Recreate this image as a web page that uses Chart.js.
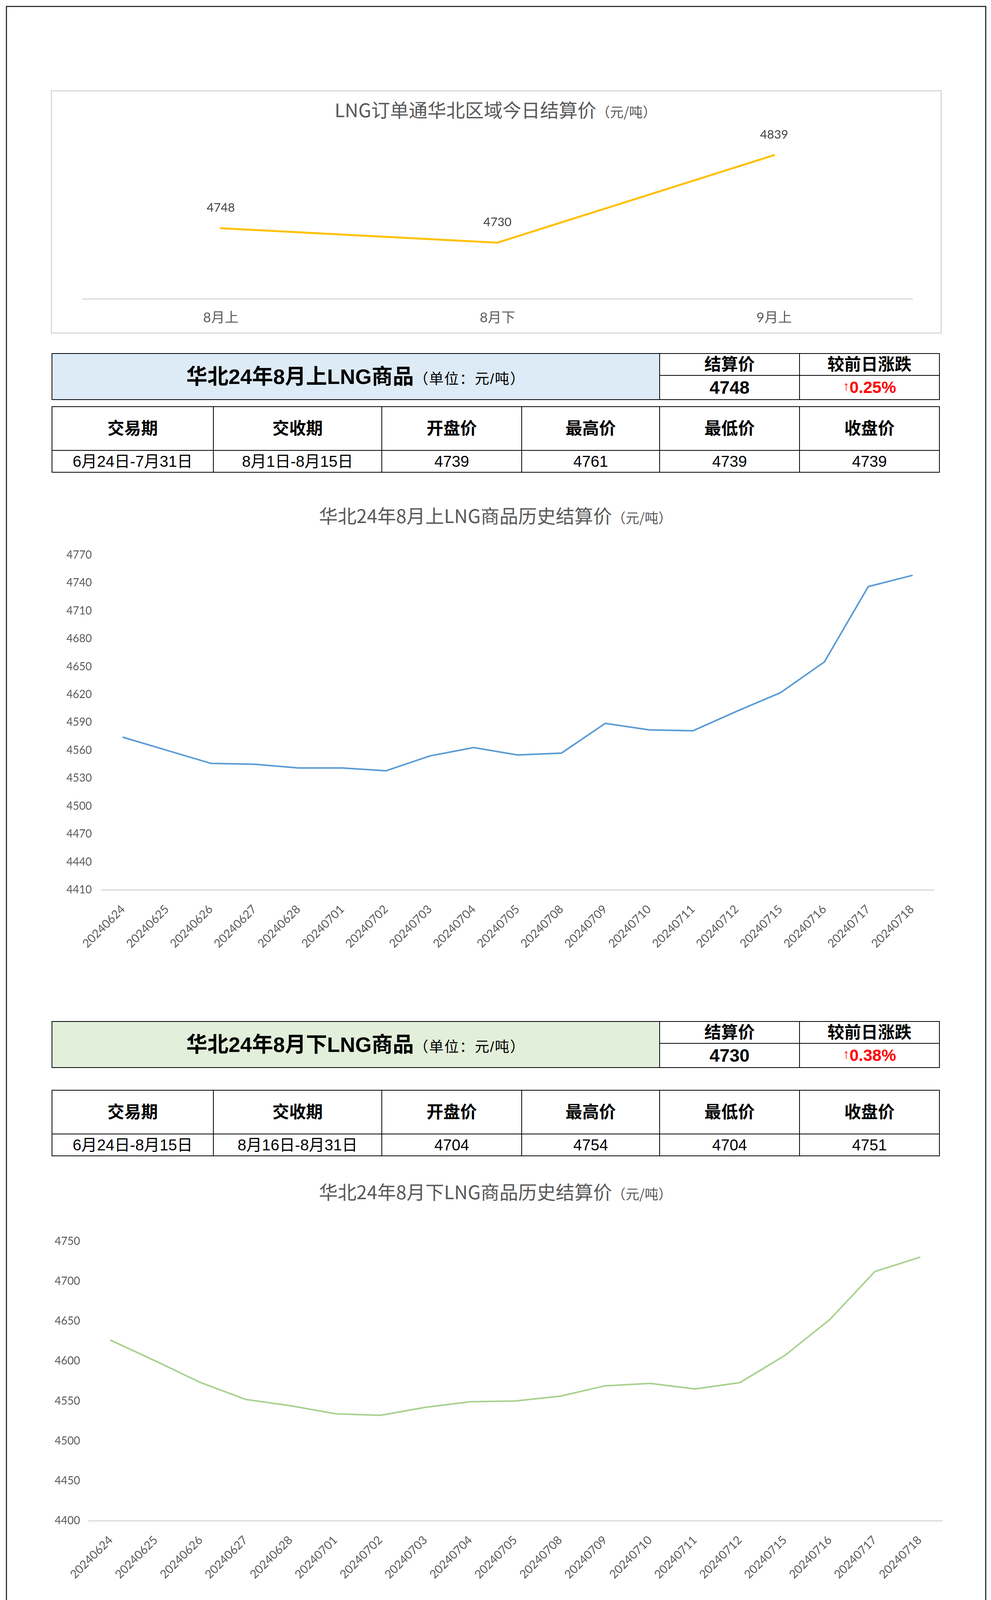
<!DOCTYPE html>
<html>
<head>
<meta charset="utf-8">
<script src="https://cdn.jsdelivr.net/npm/chart.js@4.4.1/dist/chart.umd.min.js"></script>
<style>
  body { margin: 0; background: #fff; }
  #page { position: relative; width: 2536px; height: 5734px; overflow: hidden; }
  .frame { position: absolute; left: 15px; top: 15px; width: 2509px; height: 5705px; border: 3px solid #333; box-sizing: border-box; }
  .box { position: absolute; border: 3px solid #d9d9d9; box-sizing: border-box; }
  .ctitle { position: absolute; left: 0; width: 2536px; text-align: center; color: #595959;
            font-family: "Noto Sans CJK SC", sans-serif; font-size: 48px; line-height: 48px; white-space: nowrap; }
  .ctitle span { font-size: 35px; }
  canvas { position: absolute; }
  table { position: absolute; border-collapse: collapse; table-layout: fixed;
          font-family: "Liberation Sans", "Noto Sans CJK SC", sans-serif; color: #000; }
  td { border: 2px solid #000; text-align: center; vertical-align: middle; padding: 0; white-space: nowrap; line-height: 1; }
  .big { font-size: 54px; font-weight: bold; }
  .unit { font-size: 37px; font-weight: normal; letter-spacing: 2px; }
  .hd { font-size: 43px; font-weight: bold; }
  .num { font-size: 46px; font-weight: bold; }
  .chg { font-size: 42px; font-weight: bold; color: #ff0000; }
  .chg small { font-size: 34px; font-weight: normal; vertical-align: 6px; }
  .cell { font-size: 40px; }
</style>
</head>
<body>
<div id="page">
  <div class="frame"></div>
  <div class="box" style="left:130px; top:231px; width:2280px; height:623px;"></div>
  <div class="ctitle" style="top:255px;">LNG订单通华北区域今日结算价<span>（元/吨）</span></div>
  <canvas id="c0" width="2260" height="525" style="left:140px; top:320px;"></canvas>

  <div id="tables"></div>

  <div class="ctitle" style="top:1294px;">华北24年8月上LNG商品历史结算价<span>（元/吨）</span></div>
  <canvas id="c1" width="2290" height="1085" style="left:130px; top:1380px;"></canvas>

  <div class="ctitle" style="top:3025px;">华北24年8月下LNG商品历史结算价<span>（元/吨）</span></div>
  <canvas id="c2" width="2290" height="933" style="left:130px; top:3140px;"></canvas>

  <div class="ctitle" style="top:4574px;">华北24年9月上LNG商品历史结算价<span>（元/吨）</span></div>
  <canvas id="c3" width="2300" height="920" style="left:120px; top:4650px;"></canvas>
</div>

<script>
// 今日结算价
const periods = ['8月上', '8月下', '9月上'];
const todayPrices = [4748, 4730, 4839];

// 历史结算价
const histDates = ['20240624', '20240625', '20240626', '20240627', '20240628', '20240701', '20240702',
    '20240703', '20240704', '20240705', '20240708', '20240709', '20240710', '20240711', '20240712',
    '20240715', '20240716', '20240717', '20240718'];
const histAug1 = [4574, 4560, 4546, 4545, 4541, 4541, 4538, 4554, 4563, 4555, 4557, 4589, 4582, 4581, 4602, 4622, 4655, 4736, 4748];
const histAug2 = [4626, 4600, 4573, 4552, 4544, 4534, 4532, 4542, 4549, 4550, 4556, 4569, 4572, 4565, 4573, 4607, 4652, 4712, 4730];
const histSepDates = ['20240708', '20240709', '20240710', '20240711', '20240712', '20240715', '20240716', '20240717', '20240718'];
const histSep1 = [4711, 4693, 4680, 4658, 4644, 4674, 4703, 4772, 4839];

// 商品表格
const productNames = ['华北24年8月上LNG商品', '华北24年8月下LNG商品', '华北24年9月上LNG商品'];
const changes = ['0.25%', '0.38%', '1.40%'];
const tradePeriods = ['6月24日-7月31日', '6月24日-8月15日', '7月8日-8月29日'];
const deliveryPeriods = ['8月1日-8月15日', '8月16日-8月31日', '8月30日-9月18日'];
const openPrices = [4739, 4704, 4812];
const highPrices = [4761, 4754, 4857];
const lowPrices = [4739, 4704, 4808];
const closePrices = [4739, 4751, 4846];
const colHeaders = ['交易期', '交收期', '开盘价', '最高价', '最低价', '收盘价'];

const headerColors = ['#ddebf7', '#e2efda', '#fce4d6'];
const headerTops = [904, 2614, 4205];
const tableTops = [1040, 2790, 4341];

function buildTables() {
    const holder = document.getElementById('tables');
    productNames.forEach((name, i) => {
        const hd = document.createElement('table');
        hd.style.left = '132px';
        hd.style.top = headerTops[i] + 'px';
        hd.style.width = '2271px';
        hd.innerHTML =
            '<colgroup><col style="width:1555px"><col style="width:358px"><col style="width:358px"></colgroup>' +
            '<tr style="height:56px"><td rowspan="2" style="background:' + headerColors[i] + '">' +
            '<span class="big">' + name + '</span><span class="unit">（单位：元/吨）</span></td>' +
            '<td class="hd">结算价</td><td class="hd">较前日涨跌</td></tr>' +
            '<tr style="height:62px"><td class="num">' + todayPrices[i] + '</td>' +
            '<td class="chg"><small>↑</small>' + changes[i] + '</td></tr>';
        holder.appendChild(hd);

        const tb = document.createElement('table');
        tb.style.left = '132px';
        tb.style.top = tableTops[i] + 'px';
        tb.style.width = '2271px';
        const widths = [413, 431, 358, 353, 358, 358];
        const vals = [tradePeriods[i], deliveryPeriods[i], openPrices[i], highPrices[i], lowPrices[i], closePrices[i]];
        tb.innerHTML =
            '<colgroup>' + widths.map(w => '<col style="width:' + w + 'px">').join('') + '</colgroup>' +
            '<tr style="height:112px">' + colHeaders.map(h => '<td class="hd">' + h + '</td>').join('') + '</tr>' +
            '<tr style="height:56px">' + vals.map(v => '<td class="cell">' + v + '</td>').join('') + '</tr>';
        holder.appendChild(tb);
    });
}
buildTables();

const tickFont = 'Lato, "Noto Sans CJK SC", sans-serif';

const pointLabels = {
    id: 'pointLabels',
    afterDatasetsDraw(chart) {
        const ctx = chart.ctx;
        const meta = chart.getDatasetMeta(0);
        const data = chart.data.datasets[0].data;
        ctx.save();
        ctx.font = '31px ' + tickFont;
        ctx.fillStyle = '#404040';
        ctx.textAlign = 'center';
        ctx.textBaseline = 'middle';
        meta.data.forEach((pt, i) => {
            ctx.fillText(String(data[i]), pt.x, pt.y - 52);
        });
        ctx.restore();
    }
};

function makeChart(id, labels, values, color, lineWidth, cfg) {
    return new Chart(document.getElementById(id), {
        type: 'line',
        data: {
            labels: labels,
            datasets: [{
                data: values,
                borderColor: color,
                borderWidth: lineWidth,
                pointRadius: 0,
                tension: 0,
                borderJoinStyle: 'round',
                borderCapStyle: 'round',
                fill: false
            }]
        },
        plugins: cfg.plugins || [],
        options: {
            responsive: false,
            animation: false,
            devicePixelRatio: 1,
            layout: { padding: cfg.padding },
            plugins: {
                legend: { display: false },
                tooltip: { enabled: false },
                title: { display: false }
            },
            scales: {
                x: {
                    offset: true,
                    grid: { display: false, drawTicks: false },
                    border: { display: true, color: '#d9d9d9', width: 3 },
                    afterFit: s => { s.height = cfg.xHeight; },
                    ticks: {
                        autoSkip: false,
                        color: '#595959',
                        font: { family: tickFont, size: cfg.xFont },
                        padding: cfg.xPad,
                        minRotation: cfg.rot,
                        maxRotation: cfg.rot
                    }
                },
                y: {
                    display: cfg.yShow,
                    min: cfg.min,
                    max: cfg.max,
                    grid: { display: false, drawTicks: false },
                    border: { display: false },
                    afterFit: s => { s.width = cfg.yWidth; },
                    ticks: {
                        stepSize: cfg.step,
                        color: '#595959',
                        font: { family: tickFont, size: 28 },
                        padding: cfg.yPad,
                        callback: v => String(v)
                    }
                }
            }
        }
    });
}

makeChart('c0', periods, todayPrices, '#ffc000', 5, {
    plugins: [pointLabels],
    padding: { left: 71, right: 65, top: 34, bottom: 0 },
    xHeight: 80, xFont: 35, xPad: 28, rot: 0,
    yShow: false, min: 4660, max: 4860, step: 20, yWidth: 0, yPad: 0
});

makeChart('c1', histDates, histAug1, '#5b9bd5', 4, {
    padding: { left: 0, right: 30, top: 27, bottom: 0 },
    xHeight: 187, xFont: 30, xPad: 32, rot: 45,
    yShow: true, min: 4410, max: 4770, step: 30, yWidth: 129, yPad: 24
});

makeChart('c2', histDates, histAug2, '#a9d18e', 4, {
    padding: { left: 0, right: 9, top: 35, bottom: 0 },
    xHeight: 180, xFont: 30, xPad: 32, rot: 45,
    yShow: true, min: 4400, max: 4750, step: 50, yWidth: 96, yPad: 21
});

makeChart('c3', histSepDates, histSep1, '#f4b183', 4, {
    padding: { left: 0, right: 11, top: 40, bottom: 0 },
    xHeight: 109, xFont: 28, xPad: 23, rot: 0,
    yShow: true, min: 4530, max: 4860, step: 30, yWidth: 95, yPad: 22
});
</script>
</body>
</html>
